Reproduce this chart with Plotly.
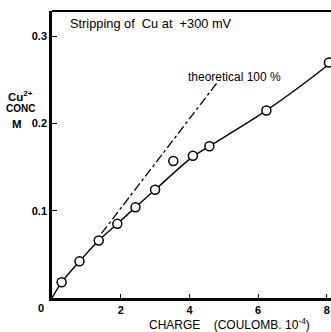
import plotly.graph_objects as go

# Measured points (charge in 1e-4 C, Cu2+ concentration M)
charge = [0.28, 0.80, 1.36, 1.90, 2.43, 3.00, 3.53, 4.10, 4.58, 6.24, 8.06]
conc = [0.018, 0.042, 0.066, 0.085, 0.104, 0.124, 0.157, 0.163, 0.174, 0.215, 0.270]

# Fitted curve
curve_x = [0, 0.28, 0.80, 1.36, 1.90, 2.43, 3.00, 4.10, 4.58, 6.24, 8.06, 8.15]
curve_y = [0, 0.018, 0.042, 0.066, 0.085, 0.104, 0.124, 0.162, 0.174, 0.215, 0.268, 0.271]

# Theoretical 100 % line (dash-dot segment)
theory_x = [1.44, 4.81]
theory_y = [0.074, 0.247]

x_ticks = [2, 4, 6, 8]
y_ticks = [0.1, 0.2, 0.3]
y_tick_text = ["0.1", "0.2", "0.3"]

FONT = "Liberation Sans, Arial, sans-serif"

fig = go.Figure()
fig.add_trace(go.Scatter(x=theory_x, y=theory_y, mode="lines",
                         line=dict(color="black", width=1.3, dash="dashdot"),
                         hoverinfo="skip", showlegend=False))
fig.add_trace(go.Scatter(x=curve_x, y=curve_y, mode="lines",
                         line=dict(color="black", width=1.4, shape="spline"),
                         hoverinfo="skip", showlegend=False))
fig.add_trace(go.Scatter(x=charge, y=conc, mode="markers",
                         marker=dict(symbol="circle", size=9, color="white",
                                     line=dict(color="black", width=1.5)),
                         cliponaxis=False, showlegend=False))

L, T, B = 52, 11, 34
W, H = 331, 332
pw, ph = W - L, H - T - B

def px(xp):
    return (xp - L) / pw

def py(yp):
    return (H - B - yp) / ph

tickfont = dict(family=FONT, size=11, color="black", weight="bold")

fig.update_layout(
    width=W, height=H,
    margin=dict(l=L, r=0, t=T, b=B, pad=0),
    paper_bgcolor="white", plot_bgcolor="white",
    font=dict(family=FONT, size=11, color="black"),
    showlegend=False,
    xaxis=dict(range=[0, 8.12], tickvals=x_ticks, ticktext=[str(v) for v in x_ticks],
               ticks="inside", ticklen=4, tickwidth=1.2, tickcolor="black",
               showline=True, linewidth=2.5, linecolor="black",
               showgrid=False, zeroline=False, tickfont=tickfont),
    yaxis=dict(range=[0, 0.329], tickvals=y_ticks, ticktext=y_tick_text,
               ticks="inside", ticklen=5, tickwidth=1.2, tickcolor="black",
               showline=True, linewidth=2.5, linecolor="black",
               showgrid=False, zeroline=False, tickfont=tickfont),
    shapes=[dict(type="line", xref="paper", yref="paper", x0=0, x1=1, y0=1, y1=1,
                 line=dict(color="black", width=2))],
)

ann = [
    dict(text="Stripping of  Cu at  +300 mV", x=px(68), y=py(24), xanchor="left", size=12.8, bold=False),
    dict(text="theoretical 100 %", x=px(186), y=py(77), xanchor="left", size=12, bold=False),
    dict(text="Cu<sup>2+</sup>", x=px(20), y=py(96), xanchor="center", size=11.5, bold=True),
    dict(text="CONC", x=px(20), y=py(109), xanchor="center", size=10, bold=True),
    dict(text="M", x=px(17), y=py(124), xanchor="center", size=11.5, bold=True),
    dict(text="0", x=px(41), y=py(308), xanchor="center", size=11, bold=True),
    dict(text="CHARGE    (COULOMB. 10<sup>-4</sup>)", x=px(229), y=py(324), xanchor="center", size=12, bold=False),
]
for a in ann:
    fig.add_annotation(text=a["text"], x=a["x"], y=a["y"], xref="paper", yref="paper",
                       xanchor=a["xanchor"], yanchor="middle", showarrow=False,
                       font=dict(family=FONT, size=a["size"], color="black",
                                 weight="bold" if a["bold"] else "normal"))

fig.write_html("out.html", config={"displayModeBar": False},
               post_script="document.body.style.margin='0';")
